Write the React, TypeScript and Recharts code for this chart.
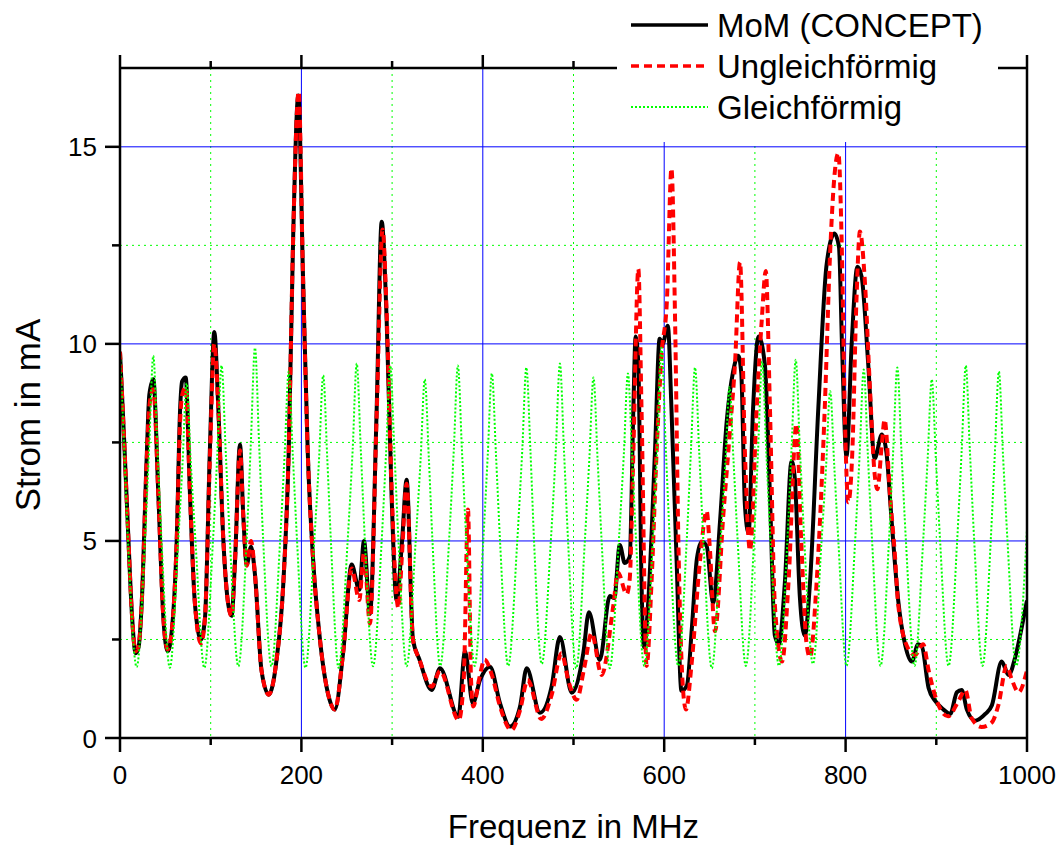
import React from 'react';
import { LineChart, Line, XAxis, YAxis, CartesianGrid, Legend } from 'recharts';

// ---------- data (frequency in MHz, current in mA) ----------
const momPoints: [number, number][] = [
  [0, 9.8], [4.5, 7.6], [9, 5.2], [13, 3.2], [17.3, 2.15], [20.5, 2.3], [23.9, 3.4], [29.4, 7.1], [32.3, 8.7], [36.7, 9.1],
  [42.3, 6.15], [47.8, 3.05], [52.6, 2.2], [57, 2.7], [62.5, 5.0], [66.2, 8.3], [68.5, 9.05], [72.4, 9.15], [77.2, 6.15],
  [82.7, 3.38], [89.3, 2.5], [93.7, 3.05], [99, 7.25], [104, 10.3], [108.4, 8.36], [113.9, 5.04], [119.4, 3.38], [123, 3.1],
  [126.8, 4.48], [132.3, 7.45], [136, 5.6], [139.7, 4.4], [144.5, 4.85], [148.8, 4.15], [156, 1.72], [164, 1.1], [172.7, 2.0],
  [180, 3.9], [186, 7.25], [191, 12.8], [196.6, 16.3], [201.8, 11.7], [207, 7.25], [213, 4.5], [220, 2.6], [229, 1.16],
  [236.8, 0.72], [246, 2.16], [255.4, 4.4], [263.8, 3.76], [269, 5.0], [275.6, 3.15], [283, 8.36], [288.5, 13.1], [294, 10.6],
  [299.5, 6.1], [305, 3.5], [311, 5.0], [316, 6.55], [323, 2.5], [330, 2.0], [343.6, 1.22], [352.8, 1.77], [373, 0.54],
  [380.4, 2.2], [389, 0.88], [396.9, 1.47], [408, 1.81], [419, 0.88], [430, 0.29], [441, 0.79], [448.4, 1.77], [463, 0.64],
  [475.9, 1.31], [485, 2.56], [498, 1.15], [510.8, 2.15], [517, 3.19], [529, 1.98], [540, 3.6], [545, 3.55], [551, 4.9],
  [556.5, 4.44], [562, 4.6], [566, 8.36], [568.5, 10.19], [571.5, 9.47], [575, 3.93], [577.7, 2.3], [582.5, 3.49],
  [589.8, 7.25], [595, 10.13], [598.3, 10.0], [604, 10.46], [608, 8.36], [613.7, 4.48], [619, 1.2], [625, 1.33],
  [630.6, 2.82], [636, 4.54], [641.3, 4.98], [646.8, 4.87], [654, 3.43], [661.5, 5.48], [668.8, 8.0], [676, 9.3],
  [681.7, 9.7], [685, 9.25], [689, 5.9], [693, 5.2], [698, 8.36], [704, 10.19], [711, 9.47], [716.6, 6.15], [722, 2.6],
  [726.5, 2.38], [733, 3.93], [740.4, 7.03], [744, 6.59], [749.5, 3.6], [755, 2.6], [760.7, 3.93], [769.9, 8.36], [779, 12.0],
  [787.6, 12.8], [792.7, 12.46], [796, 10.0], [801, 7.14], [806.7, 10.0], [813, 11.96], [817.7, 11.7], [825, 9.47],
  [832, 7.09], [840, 7.7], [845, 7.25], [850.8, 5.5], [858, 3.49], [865.5, 2.38], [873, 1.94], [880, 2.38], [884, 2.33],
  [891.5, 1.27], [898.8, 0.94], [908, 0.72], [915.4, 0.61], [922.7, 1.16], [928, 1.22], [933.7, 0.72], [942.9, 0.44],
  [954, 0.61], [961.3, 0.83], [972, 1.94], [979.7, 1.6], [987, 2.05], [994.3, 2.82], [1000, 3.49],
];

const ungleichPoints: [number, number][] = [
  [0, 9.8], [4.5, 7.6], [9, 5.2], [13, 3.2], [17.3, 2.2], [20.5, 2.35], [23.9, 3.4], [29.4, 7.0], [32.3, 8.4], [36.7, 8.85],
  [42.3, 6.15], [47.8, 3.05], [52.6, 2.25], [57, 2.7], [62.5, 5.0], [66.2, 8.0], [68.5, 8.7], [72.4, 8.9], [77.2, 6.15],
  [82.7, 3.38], [89.3, 2.4], [93.7, 3.05], [99, 7.0], [104, 10.0], [108.4, 8.36], [113.9, 5.04], [119.4, 3.38], [123, 3.1],
  [126.8, 4.48], [132.3, 7.3], [136, 5.6], [139.7, 4.37], [144.5, 5.0], [148.8, 4.15], [156, 1.72], [164, 1.1], [172.7, 2.0],
  [180, 3.9], [186, 7.25], [191, 12.8], [197, 16.4], [201.8, 11.7], [207, 7.25], [213, 4.5], [220, 2.6], [229, 1.16],
  [236.8, 0.72], [246, 2.16], [255.4, 4.3], [263.8, 3.5], [269, 4.7], [275.6, 2.9], [283, 8.2], [289.5, 12.9], [294, 10.8],
  [299.5, 6.3], [307, 3.3], [311, 4.7], [316, 6.45], [323, 2.5], [330, 2.0], [343.6, 1.3], [352.8, 1.7], [373.5, 0.45],
  [379, 1.5], [383.7, 5.8], [387, 1.5], [389.5, 0.8], [396, 1.5], [402, 1.99], [410, 1.6], [419, 0.8], [431.5, 0.2],
  [441, 0.7], [449.5, 1.47], [464.5, 0.48], [476, 1.1], [486.7, 2.15], [495, 1.4], [503.5, 0.97], [512, 1.8], [520, 2.66],
  [531, 1.6], [544, 3.38], [549, 4.2], [558.6, 3.65], [562, 4.04], [566, 7.25], [571.5, 11.9], [575, 8.36], [580.6, 1.83],
  [586, 3.93], [591.6, 7.25], [597, 9.7], [603, 11.1], [608, 14.45], [612, 10.6], [615.6, 5.04], [621, 1.16], [624, 0.72],
  [630, 1.83], [639.4, 4.48], [646.8, 5.76], [650, 4.93], [656, 2.71], [665, 5.6], [672.5, 7.8], [678, 9.47], [683.6, 12.07],
  [689, 7.25], [694.6, 4.76], [702, 8.36], [707.5, 10.58], [712, 11.85], [716.6, 8.36], [722, 3.38], [730, 1.94], [737, 3.93],
  [745.8, 7.97], [751, 5.04], [757, 2.38], [760.7, 2.05], [768, 3.93], [777, 8.36], [782.8, 12.24], [788, 14.34], [792, 14.84],
  [796, 12.24], [799, 8.36], [803, 5.98], [807.4, 7.25], [812, 11.13], [815.8, 12.85], [821, 11.68], [826.8, 8.9], [832, 6.7],
  [835, 6.31], [840, 7.47], [843, 8.08], [849, 6.15], [854.5, 4.6], [858, 3.38], [869, 2.27], [876.5, 2.1], [885.5, 2.38],
  [891.5, 1.72], [900.6, 0.94], [913, 0.55], [924.5, 0.94], [932, 1.22], [939, 0.5], [950, 0.28], [961, 0.39], [968.4, 0.83],
  [977.6, 1.83], [983, 1.5], [990.6, 1.16], [1000, 1.72],
];

const gleichPoints: [number, number][] = [
  [0, 9.8], [4.5, 7.4], [9, 4.9], [18.4, 1.8],
  [27.5, 5.0], [32.2, 7.4], [36.7, 9.7], [41.2, 7.4], [45.8, 5.0], [55, 1.78],
  [64.2, 5.0], [69, 7.0], [73.5, 9.0], [78, 7.0], [83.2, 5.0], [93, 1.78],
  [102.5, 5.0], [107.5, 7.3], [112, 9.45], [116.5, 7.3], [121.2, 5.0], [130.5, 1.82],
  [139.6, 5.0], [144.3, 7.5], [148.8, 9.9], [153.3, 7.5], [157.9, 5.0], [167, 1.82],
  [176.5, 5.0], [181.5, 7.2], [186, 9.3], [190.5, 7.2], [195.2, 5.0], [204.5, 1.78],
  [214.2, 5.0], [219.5, 7.1], [224, 9.2], [228.5, 7.1], [232.5, 5.0], [241, 1.78],
  [251, 5.0], [256.5, 7.3], [261, 9.5], [265.5, 7.3], [270, 5.0], [279, 1.82],
  [288.5, 5.0], [293.5, 7.3], [298, 9.45], [302.5, 7.3], [307, 5.0], [316, 1.82],
  [326, 5.0], [331.5, 7.1], [336, 9.1], [340.5, 7.1], [344.5, 5.0], [353, 1.83],
  [362.8, 5.0], [368, 7.3], [372.5, 9.45], [377, 7.3], [381.8, 5.0], [391, 1.83],
  [400.5, 5.0], [405.5, 7.2], [410, 9.25], [414.5, 7.2], [419, 5.0], [428, 1.83],
  [438, 5.0], [443.5, 7.3], [448, 9.4], [452.5, 7.3], [456.5, 5.0], [465, 1.88],
  [475, 5.0], [480.5, 7.3], [485, 9.5], [489.5, 7.3], [494, 5.0], [503, 1.77],
  [512.5, 5.0], [517.5, 7.1], [522, 9.15], [526.5, 7.1], [531, 5.0], [540, 1.77],
  [550, 5.0], [555.5, 7.2], [560, 9.25], [564.5, 7.2], [569, 5.0], [578, 1.83],
  [587.5, 5.0], [592.5, 7.5], [597, 9.9], [601.5, 7.5], [606.2, 5.0], [615.5, 1.83],
  [624.8, 5.0], [629.5, 7.3], [634, 9.4], [638.5, 7.3], [643.2, 5.0], [652.5, 1.77],
  [662.2, 5.0], [667.5, 7.0], [672, 8.9], [676.5, 7.0], [681, 5.0], [690, 1.83],
  [699, 5.0], [703.5, 7.3], [708, 9.55], [712.5, 7.3], [717.2, 5.0], [726.5, 1.83],
  [735.8, 5.0], [740.5, 7.4], [745, 9.6], [749.5, 7.4], [754.5, 5.0], [764, 1.88],
  [773.5, 5.0], [778.5, 6.9], [783, 8.8], [787.5, 6.9], [792, 5.0], [801, 1.83],
  [810.5, 5.0], [815.5, 7.2], [820, 9.35], [824.5, 7.2], [829.2, 5.0], [838.5, 1.83],
  [847.8, 5.0], [852.5, 7.3], [857, 9.4], [861.5, 7.3], [866.5, 5.0], [876, 1.83],
  [885.5, 5.0], [890.5, 7.1], [895, 9.1], [899.5, 7.1], [904.2, 5.0], [913.5, 1.83],
  [923, 5.0], [928, 7.3], [932.5, 9.45], [937, 7.3], [941.8, 5.0], [951, 1.83],
  [960, 5.0], [964.5, 7.2], [969, 9.3], [973.5, 7.2], [978.5, 5.0], [988, 1.83],
  [1000, 5.3],
];

const xTicks = [0, 100, 200, 300, 400, 500, 600, 700, 800, 900, 1000];
const xMajorLabeled = [0, 200, 400, 600, 800, 1000];
const yTicks = [0, 2.5, 5, 7.5, 10, 12.5, 15];
const yMajorLabeled = [0, 5, 10, 15];
const xGridMajor = [200, 400, 600, 800];
const xGridMinor = [100, 300, 500, 700, 900];
const yGridMajor = [5, 10, 15];
const yGridMinor = [2.5, 7.5, 12.5];

const seriesNames = ['MoM (CONCEPT)', 'Ungleichförmig', 'Gleichförmig'];
const xTitle = 'Frequenz in MHz';
const yTitle = 'Strom in mA';

// ---------- styles ----------
const FONT = 'Liberation Sans, Arial, Helvetica, sans-serif';
const AXIS_W = 2.5;
const seriesStyles = [
  { stroke: '#000000', strokeWidth: 4, dash: undefined as string | undefined },
  { stroke: '#ff0000', strokeWidth: 4, dash: '8 5' },
  { stroke: '#00ff00', strokeWidth: 2, dash: '2 2' },
];

const toRows = (pts: [number, number][]) => pts.map(([f, v]) => ({ f, v }));
const momRows = toRows(momPoints);
const ungleichRows = toRows(ungleichPoints);
const gleichRows = toRows(gleichPoints);

const BottomTick = (props: any) => {
  const { x, y, payload } = props;
  const major = xMajorLabeled.includes(payload.value);
  return (
    <g>
      <line x1={x} x2={x} y1={y} y2={y + (major ? 14 : 7)} stroke="#000" strokeWidth={AXIS_W} />
      {major && (
        <text x={x} y={y + 46} textAnchor="middle" fontSize={26} fontFamily={FONT} fill="#000">
          {payload.value}
        </text>
      )}
    </g>
  );
};

const TopTick = (props: any) => {
  const { x, y, payload } = props;
  const major = xMajorLabeled.includes(payload.value);
  return <line x1={x} x2={x} y1={y} y2={y - (major ? 13 : 7)} stroke="#000" strokeWidth={AXIS_W} />;
};

const LeftTick = (props: any) => {
  const { x, y, payload } = props;
  const major = yMajorLabeled.includes(payload.value);
  return (
    <g>
      <line x1={x - (major ? 15 : 8)} x2={x} y1={y} y2={y} stroke="#000" strokeWidth={AXIS_W} />
      {major && (
        <text x={x - 23} y={y + 9.5} textAnchor="end" fontSize={26} fontFamily={FONT} fill="#000">
          {payload.value}
        </text>
      )}
    </g>
  );
};

const XTitle = (props: any) => {
  const vb = props.viewBox || {};
  return (
    <text x={vb.x + vb.width / 2} y={vb.y + 100} textAnchor="middle" fontSize={33} fontFamily={FONT} fill="#000">
      {xTitle}
    </text>
  );
};

const YTitle = (props: any) => {
  const vb = props.viewBox || {};
  const cx = vb.x + 27;
  const cy = vb.y + vb.height / 2 + 12;
  return (
    <text
      x={cx}
      y={cy}
      transform={`rotate(-90 ${cx} ${cy})`}
      textAnchor="middle"
      dominantBaseline="central"
      fontSize={35}
      fontFamily={FONT}
      fill="#000"
    >
      {yTitle}
    </text>
  );
};

const rowY = [25, 66, 107];
const LegendBox = () => (
  <div style={{ background: '#fff', width: 381, height: 142 }}>
    <svg width={381} height={142} style={{ display: 'block' }}>
      {seriesNames.map((name, i) => (
        <g key={name}>
          <line
            x1={14}
            x2={91}
            y1={rowY[i]}
            y2={rowY[i]}
            stroke={seriesStyles[i].stroke}
            strokeWidth={i === 2 ? 2 : 3.5}
            strokeDasharray={seriesStyles[i].dash}
          />
          <text x={100} y={rowY[i] + 11.5} fontSize={33} fontFamily={FONT} fill="#000">
            {name}
          </text>
        </g>
      ))}
    </svg>
  </div>
);

export default function App() {
  return (
    <div style={{ width: 1062, height: 848, position: 'relative', overflow: 'hidden', background: '#fff' }}>
      <style>{`body{margin:0;overflow:hidden;background:#fff}`}</style>
      <LineChart width={1062} height={848} margin={{ top: 67, right: 34, bottom: 0, left: 0 }}>
        <CartesianGrid
          verticalValues={xGridMinor}
          horizontalValues={yGridMinor}
          stroke="#00ff00"
          strokeWidth={1}
          strokeDasharray="2 4"
          fill="none"
        />
        <CartesianGrid
          verticalValues={xGridMajor}
          horizontalValues={yGridMajor}
          stroke="#0000ff"
          strokeWidth={1}
          fill="none"
        />
        <XAxis
          dataKey="f"
          type="number"
          domain={[0, 1000]}
          allowDataOverflow
          ticks={xTicks}
          interval={0}
          tickSize={0}
          tickMargin={0}
          tickLine={false}
          tick={<BottomTick />}
          axisLine={{ stroke: '#000', strokeWidth: AXIS_W }}
          height={110}
          label={{ content: <XTitle /> }}
        />
        <XAxis
          xAxisId="top"
          orientation="top"
          dataKey="f"
          type="number"
          domain={[0, 1000]}
          allowDataOverflow
          ticks={xTicks}
          interval={0}
          tickSize={0}
          tickMargin={0}
          tickLine={false}
          tick={<TopTick />}
          axisLine={{ stroke: '#000', strokeWidth: AXIS_W }}
          height={1}
        />
        <YAxis
          type="number"
          domain={[0, 17]}
          allowDataOverflow
          ticks={yTicks}
          interval={0}
          tickSize={0}
          tickMargin={0}
          tickLine={false}
          tick={<LeftTick />}
          axisLine={{ stroke: '#000', strokeWidth: AXIS_W }}
          width={120}
          label={{ content: <YTitle /> }}
        />
        <YAxis
          yAxisId="right"
          orientation="right"
          type="number"
          domain={[0, 17]}
          allowDataOverflow
          ticks={yTicks}
          interval={0}
          tick={false}
          tickLine={false}
          axisLine={{ stroke: '#000', strokeWidth: AXIS_W }}
          width={1}
        />
        <Line
          data={momRows}
          dataKey="v"
          name={seriesNames[0]}
          type="monotone"
          stroke={seriesStyles[0].stroke}
          strokeWidth={seriesStyles[0].strokeWidth}
          dot={false}
          activeDot={false}
          isAnimationActive={false}
        />
        <Line
          data={ungleichRows}
          dataKey="v"
          name={seriesNames[1]}
          type="monotone"
          stroke={seriesStyles[1].stroke}
          strokeWidth={seriesStyles[1].strokeWidth}
          strokeDasharray={seriesStyles[1].dash}
          dot={false}
          activeDot={false}
          isAnimationActive={false}
        />
        <Line
          data={gleichRows}
          dataKey="v"
          xAxisId="top"
          yAxisId="right"
          name={seriesNames[2]}
          type="monotone"
          stroke={seriesStyles[2].stroke}
          strokeWidth={seriesStyles[2].strokeWidth}
          strokeDasharray={seriesStyles[2].dash}
          dot={false}
          activeDot={false}
          isAnimationActive={false}
        />
        <Legend
          layout="horizontal"
          verticalAlign="middle"
          align="center"
          wrapperStyle={{ position: 'absolute', left: 617, top: 0, width: 381, height: 142 }}
          content={<LegendBox />}
        />
      </LineChart>
    </div>
  );
}
